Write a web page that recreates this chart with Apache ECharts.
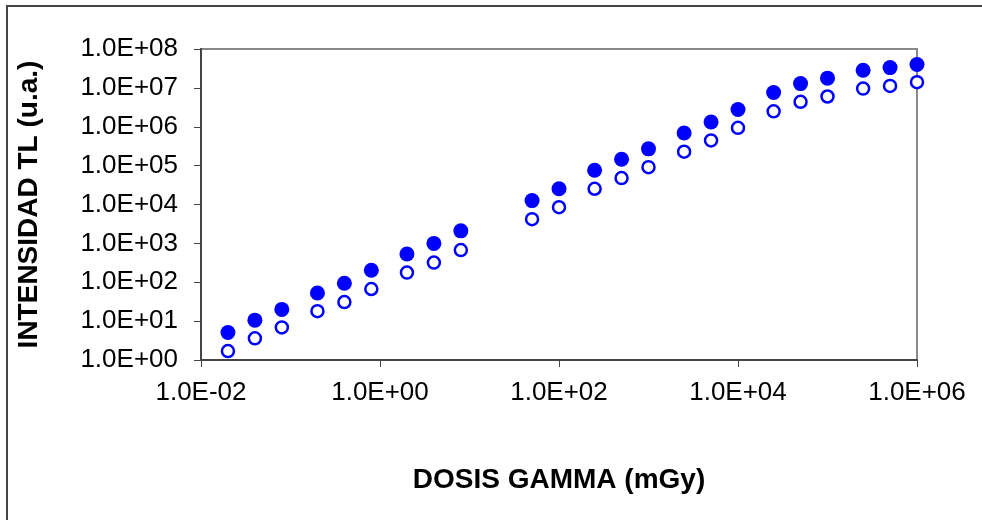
<!DOCTYPE html>
<html>
  <head>
    <meta charset="utf-8" />
    <script src="https://cdn.jsdelivr.net/npm/echarts@6/dist/echarts.min.js"></script>
    <style>
      html, body { margin: 0; padding: 0; background: #fff; }
      #main { width: 982px; height: 520px; }
    </style>
  </head>
  <body>
    <div id="main"></div>
    <script type="text/javascript">
      // dose (mGy) and TL intensity
      var dosis = [0.02, 0.04, 0.08, 0.2, 0.4, 0.8, 2, 4, 8, 50, 100, 250, 500, 1000,
                   2500, 5000, 10000, 25000, 50000, 1e5, 2.5e5, 5e5, 1e6];
      var llenos = [5.1, 10.6, 20, 53, 94, 203, 532, 1000, 2100, 12600, 25400, 75800,
                    146000, 270000, 690000, 1320000, 2780000, 7600000, 12900000,
                    17800000, 28400000, 33200000, 40000000];
      var vacios = [1.7, 3.6, 6.9, 18, 31, 67, 177, 320, 673, 4200, 8500, 25400, 48000,
                    91000, 229000, 446000, 938000, 2500000, 4370000, 6000000, 9600000,
                    11200000, 14000000];

      function sci(v) {
        var e = Math.round(Math.log10(v));
        var s = e < 0 ? '-' : '+';
        var a = Math.abs(e);
        return '1.0E' + s + (a < 10 ? '0' + a : a);
      }

      var myChart = echarts.init(document.getElementById('main'));
      var font = 'Liberation Sans, Arial, sans-serif';

      var option = {
        backgroundColor: '#fff',
        animation: false,
        grid: { left: 201, right: 65, top: 49, bottom: 160, show: true,
                borderColor: '#888', borderWidth: 2 },
        // outer frame: only the left and top edges are inside the picture
        graphic: [{
          type: 'polyline',
          shape: { points: [[7, 520], [7, 6], [982, 6]] },
          style: { fill: null, stroke: '#444', lineWidth: 2 }
        }],
        xAxis: {
          type: 'log', logBase: 100, min: 0.01, max: 1e6,
          name: 'DOSIS GAMMA (mGy)', nameLocation: 'middle', nameGap: 106,
          nameTextStyle: { fontFamily: font, fontWeight: 'bold', fontSize: 28, color: '#000' },
          axisLine: { lineStyle: { color: '#444', width: 2 } },
          axisTick: { length: 7, lineStyle: { color: '#444' } },
          minorTick: { show: false },
          splitLine: { show: false },
          axisLabel: { formatter: sci, fontFamily: font, fontSize: 26, color: '#000', margin: 20 }
        },
        yAxis: {
          type: 'log', logBase: 10, min: 1, max: 1e8,
          name: 'INTENSIDAD TL (u.a.)', nameLocation: 'middle', nameGap: 158,
          nameTextStyle: { fontFamily: font, fontWeight: 'bold', fontSize: 28, color: '#000' },
          axisLine: { lineStyle: { color: '#444', width: 2 } },
          axisTick: { length: 7, lineStyle: { color: '#444' } },
          splitLine: { show: false },
          axisLabel: { formatter: sci, fontFamily: font, fontSize: 26, color: '#000', margin: 23 }
        },
        series: [
          {
            name: 'llenos', type: 'scatter', symbol: 'circle', symbolSize: 15,
            itemStyle: { color: '#0000ff', opacity: 1 },
            data: dosis.map(function (d, i) { return [d, llenos[i]]; })
          },
          {
            name: 'vacios', type: 'scatter', symbol: 'circle', symbolSize: 12,
            itemStyle: { color: '#fff', borderColor: '#0000ff', borderWidth: 2.5, opacity: 1 },
            data: dosis.map(function (d, i) { return [d, vacios[i]]; })
          }
        ]
      };

      myChart.setOption(option);
    </script>
  </body>
</html>
